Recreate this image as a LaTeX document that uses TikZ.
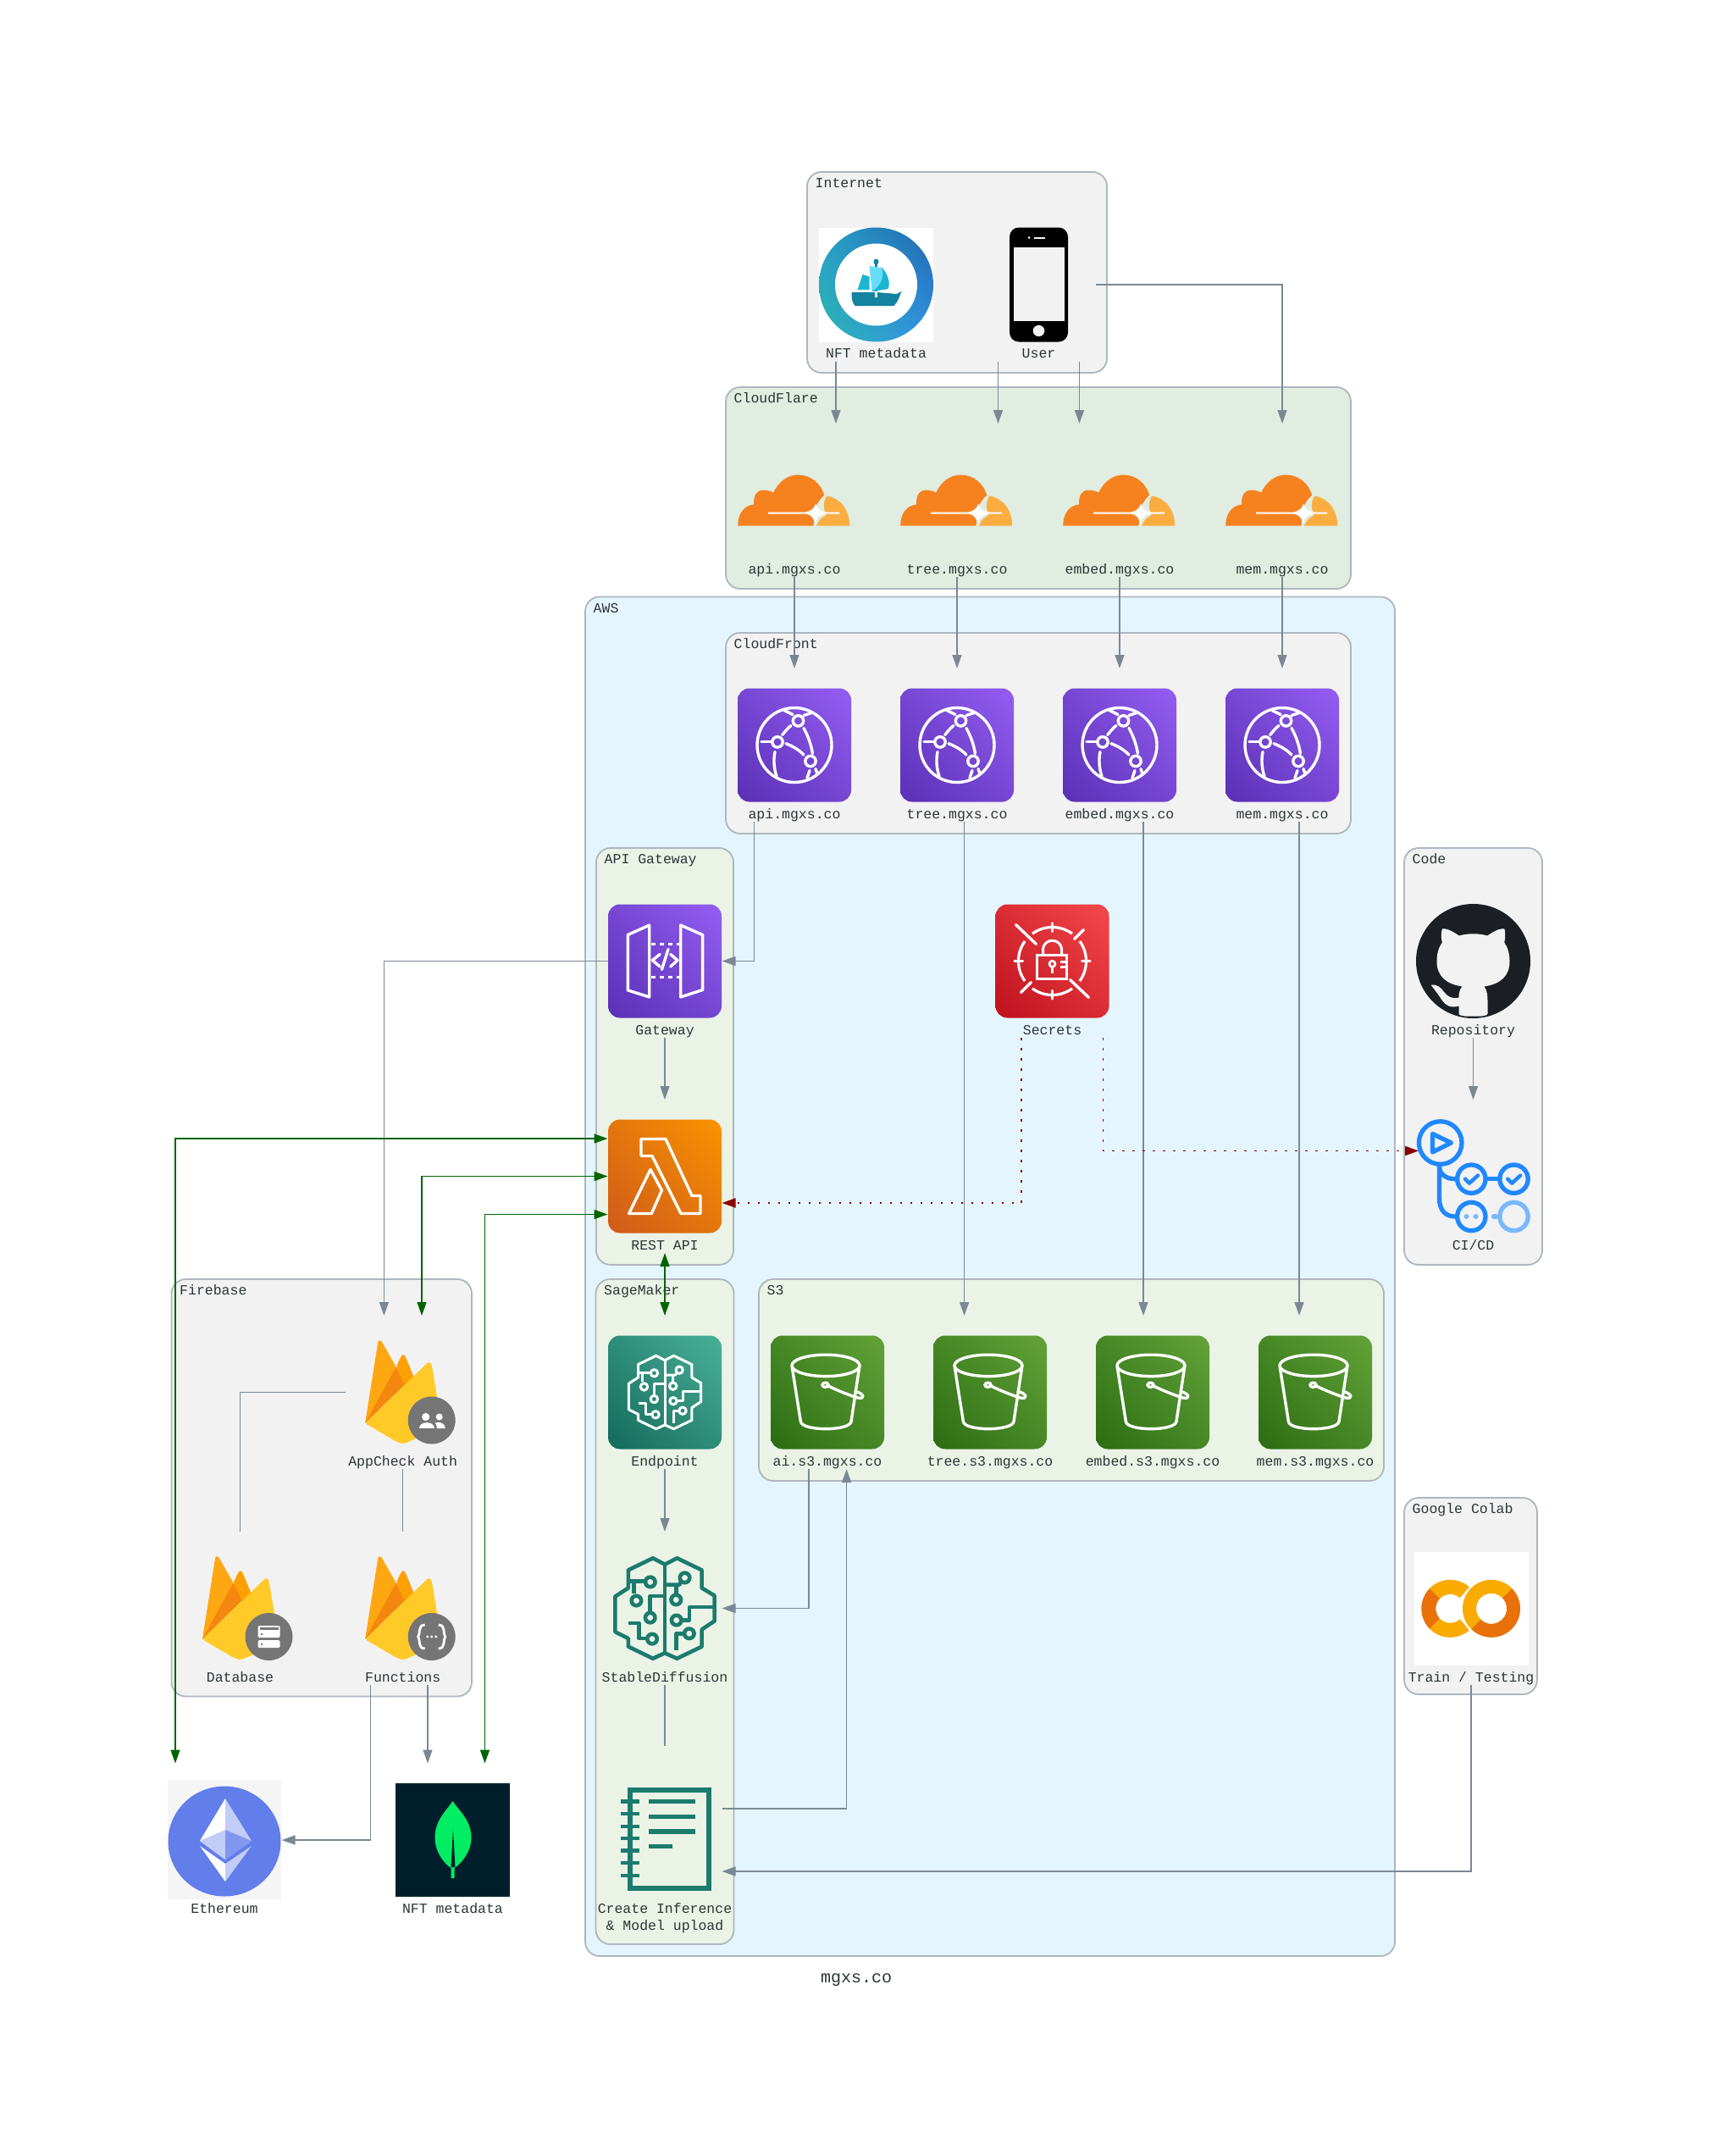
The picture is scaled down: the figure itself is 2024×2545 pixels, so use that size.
\documentclass[tikz,border=0pt]{standalone}
\usepackage{fontspec}
\setmainfont{Liberation Mono}
\usetikzlibrary{arrows.meta,shadings}
\definecolor{edgegrey}{HTML}{7B8894}
\definecolor{clusterline}{HTML}{AEB6BE}
\definecolor{inktext}{HTML}{2D3436}
\definecolor{bgaws}{HTML}{E5F5FD}
\definecolor{bggrey}{HTML}{F2F2F2}
\definecolor{bgflare}{HTML}{E0EDE0}
\definecolor{bggreen}{HTML}{EBF3E7}
\definecolor{pdark}{HTML}{5A30B5}\definecolor{plight}{HTML}{945DF2}
\definecolor{odark}{HTML}{CF5A1A}\definecolor{olight}{HTML}{F99300}
\definecolor{rdark}{HTML}{BF111E}\definecolor{rlight}{HTML}{F5484B}
\definecolor{tdark}{HTML}{136A5A}\definecolor{tlight}{HTML}{4AB098}
\definecolor{gdark}{HTML}{2B6C13}\definecolor{glight}{HTML}{63A338}
\definecolor{sdteal}{HTML}{1C7B6C}
\definecolor{cfdark}{HTML}{F6821F}\definecolor{cflight}{HTML}{FBAD41}
\definecolor{ghdark}{HTML}{1B1F23}
\definecolor{actblue}{HTML}{2088FF}\definecolor{actfade}{HTML}{79B8FF}
\definecolor{colabl}{HTML}{F9AB00}\definecolor{colabd}{HTML}{E8710A}
\definecolor{badge}{HTML}{757575}
\definecolor{darkgrn}{HTML}{006400}
\definecolor{darkred}{HTML}{8B0000}
\definecolor{seaA}{HTML}{2BB7B0}\definecolor{seaB}{HTML}{2A9FC9}\definecolor{seaC}{HTML}{2168B0}\definecolor{seaD}{HTML}{3391EA}
\definecolor{shipL}{HTML}{68DDFB}\definecolor{shipM}{HTML}{1CB6D3}\definecolor{shipD}{HTML}{14839F}
\definecolor{flameA}{HTML}{FFA000}\definecolor{flameB}{HTML}{FFA712}\definecolor{flameC}{HTML}{F4870F}\definecolor{flameY}{HTML}{FFCA28}
\tikzset{
  x=1pt,y=-1pt,
  ndbox/.style={inner sep=0pt,outer sep=0pt,minimum width=135pt,minimum height=181pt},
  lbl/.style={font=\fontsize{16.5}{19.5}\selectfont,text=inktext,inner sep=0pt,align=center},
  clu/.style={draw=clusterline,line width=1.8pt,rounded corners=17pt},
  clutitle/.style={font=\fontsize{16.5}{19.5}\selectfont,text=inktext,inner sep=0pt,anchor=base west},
  conn/.style={draw=edgegrey,line width=1.5pt},
  arr/.style={conn,-{Triangle[length=16pt,width=11pt]}},
  both/.style={draw=darkgrn,line width=1.5pt,{Triangle[length=16pt,width=11pt]}-{Triangle[length=16pt,width=11pt]}},
  dots/.style={draw=darkred,line width=1.9pt,dash pattern=on 2.5pt off 9.5pt,-{Triangle[length=16pt,width=11pt]}},
  wl/.style={draw=white,line width=3.4pt,line join=round,line cap=round},
  ringc/.style={draw=white,line width=3.4pt,fill=none},
}
\newcommand{\awsbg}[2]{\shade[rounded corners=14pt,lower left=#1,upper right=#2,lower right=#1!50!#2,upper left=#1!50!#2] (-67,-67) rectangle (67,67);}
\newcommand{\clusterbox}[7]{\draw[clu,fill=#5] (#1,#2) rectangle (#3,#4);
  \node[clutitle] (#7) at (#1+9.5,#2+18.5) {#6};}
\newcommand{\place}[5]{\node[ndbox] (#1) at (#2,#3) {};
  \begin{scope}[shift={(#2,#3)}]#5\end{scope}
  \node[lbl,anchor=base] (#1-label) at (#2,#3+86.7) {#4};}
\newcommand{\annul}[5]{\fill[#5] (#1:#3) arc[start angle=#1,end angle=#2,radius=#3] -- (#2:#4) arc[start angle=#2,end angle=#1,radius=#4] -- cycle;}
% --- icons ---
\newcommand{\icCloud}{\begin{scope}[shift={(-0.8,0)}]%
 \fill[cfdark] (-66,30) .. controls (-66,15) and (-58,6) .. (-47,5) .. controls (-48,-6) and (-43,-12) .. (-37,-12)
  .. controls (-32,-12) and (-27,-11) .. (-24,-9) .. controls (-18,-22) and (-7,-30) .. (5,-30)
  .. controls (20,-30) and (32,-20) .. (36,-6) .. controls (29,0) and (24,10) .. (24,16)
  .. controls (25,22) and (24,26) .. (23,30) -- cycle;
 \fill[cflight] (39,-5) .. controls (55,-3) and (66,12) .. (66,30) -- (27,30) .. controls (29,24) and (33,20) .. (38,18) -- (36,10) .. controls (35,4) and (36,0) .. (39,-5) -- cycle;
 \fill[white] (-30,14) -- (14,14) .. controls (20,13) and (24,10) .. (26,4) .. controls (27,10) and (31,13) .. (38,14) -- (54,14) -- (54,16) -- (38,16) .. controls (31,17) and (27,20) .. (25,28) .. controls (24,20) and (20,17) .. (14,16) -- (-30,16) -- cycle;\end{scope}}
\newcommand{\icFront}{\awsbg{pdark}{plight}
 \draw[ringc] (0,0) circle (44);
 \draw[ringc] (4.5,-28.6) circle (6.2); \draw[ringc] (-20,-3.6) circle (6.2); \draw[ringc] (19,19) circle (6.2);
 \draw[wl] (-4,-23) .. controls (-8,-20) and (-11,-16) .. (-14.3,-12);
 \draw[wl] (-10,-1.8) .. controls (-3,1) and (5,5) .. (11,11.6);
 \draw[wl] (11,-20) .. controls (16,-11) and (20,0) .. (21.4,10);
 \draw[wl] (-23,8) .. controls (-25,18) and (-24,28) .. (-21,37);
 \draw[wl] (-39,-4) -- (-27,-4);
 \draw[wl] (18,30) -- (15,39);
 \draw[wl] (-12,-41) -- (-2,-36); \draw[wl] (11,-35) -- (20,-38);
 \draw[wl] (25,28) -- (27,34);}
\newcommand{\icGate}{\awsbg{pdark}{plight}
 \draw[wl] (-43.7,-31) -- (-18.3,-42.4) -- (-18.3,42.4) -- (-43.7,34.4) -- cycle;
 \draw[wl] (18.7,-42.4) -- (44.6,-31) -- (44.6,34) -- (18.7,42.4) -- cycle;
 \draw[draw=white,line width=3.2pt,dash pattern=on 5pt off 5pt] (-16,-20) -- (18,-20);
 \draw[draw=white,line width=3.2pt,dash pattern=on 5pt off 5pt] (-16,19) -- (18,19);
 \draw[wl] (-5.8,-8) -- (-14.7,-1) -- (-5.8,6.5);
 \draw[wl] (6.7,-8) -- (15,-1) -- (6.7,6.5);
 \draw[wl] (4,-14) -- (-3.6,10);}
\newcommand{\icLambda}{\awsbg{odark}{olight}
 \draw[wl] (-28,-44) -- (1,-44) -- (32,23) -- (42,23) -- (42,44) -- (19,44) -- (-15,-24) -- (-28,-24) -- cycle;
 \draw[wl] (-17,-8) -- (-3.6,16.5) -- (-15.6,44) -- (-42.4,44) -- cycle;}
\newcommand{\icSecret}{\awsbg{rdark}{rlight}
 \draw[draw=white,line width=3.2pt] (-54:40) arc[start angle=-54,end angle=-126,radius=40];
 \draw[draw=white,line width=3.2pt] (54:40) arc[start angle=54,end angle=126,radius=40];
 \draw[draw=white,line width=3.2pt] (-36:40) arc[start angle=-36,end angle=36,radius=40];
 \draw[draw=white,line width=3.2pt] (144:40) arc[start angle=144,end angle=216,radius=40];
 \draw[wl] (0,-44.5) -- (0,-35); \draw[wl] (0,44.5) -- (0,35); \draw[wl] (-44.5,0) -- (-35,0); \draw[wl] (44.5,0) -- (35,0);
 \draw[wl] (-43,-43) -- (-19,-20); \draw[wl] (21,22) -- (43,43);
 \draw[wl] (37,-37) -- (26,-26); \draw[wl] (-37,37) -- (-25,25);
 \draw[draw=white,line width=3pt,line join=miter] (-17.7,-6.7) rectangle (17.3,21);
 \draw[draw=white,line width=3pt] (-11,-6.7) -- (-11,-13) .. controls (-11,-28) and (11,-28) .. (11,-13) -- (11,-6.7);
 \draw[draw=white,line width=2.6pt] (0,3.3) circle (3.5); \draw[draw=white,line width=2.6pt] (0,7) -- (0,14);
 \draw[draw=white,line width=2.4pt] (9,1) -- (16,1); \draw[draw=white,line width=2.4pt] (9,7) -- (16,7);}
\newcommand{\icBucket}{\awsbg{gdark}{glight}
 \draw[ringc] (-2,-31.6) ellipse (40 and 12.7);
 \draw[wl] (-41.8,-30) -- (-31.6,34.6) .. controls (-30,46) and (26,46) .. (28,34.6) -- (37.7,-30);
 \draw[ringc] (-2.5,-8.7) ellipse (3.5 and 2.6);
 \draw[wl] (0,-8) .. controls (10,-3) and (22,2) .. (35,6.3) .. controls (46,9) and (43,1) .. (33,-1);}
\newcommand{\brainlines}{%
 \draw[brain] (-14.7,-61.7) -- (-45,-47) -- (-45,-25) -- (-61,-14.6) -- (-61,29) -- (-45,37) -- (-45,47) -- (-14.7,61.7) -- (0,55) -- (15,61.7) -- (45.5,47) -- (45.5,26) -- (61,15.7) -- (61,-15.7) -- (45.5,-25) -- (45.5,-47) -- (15,-61.7) -- (0,-54) -- cycle;
 \draw[brain] (0,-54) -- (0,55);
 \draw[brain] (-45,-33.5) -- (-24,-33.5); \draw[brain] (-17.9,-32.4) circle (6);
 \draw[brain] (-38,-33) -- (-38,-18); \draw[brain] (-35,-9.4) circle (6);
 \draw[brain] (0,-15) -- (-18,-15) -- (-18,5); \draw[brain] (-18,11.5) circle (6);
 \draw[brain] (-45,18) -- (-32,18) -- (-32,37) -- (-22,37); \draw[brain] (-15.6,37.6) circle (6);
 \draw[brain] (0,-29) -- (18,-29) -- (20,-33); \draw[brain] (24.5,-37.6) circle (6);
 \draw[brain] (13.8,-29) -- (13.8,-16); \draw[brain] (13.8,-10.5) circle (6);
 \draw[brain] (21,14.6) -- (30,14.6) -- (30,-1.6) -- (61,-1.6); \draw[brain] (14.3,14.6) circle (6);
 \draw[brain] (14.3,52) -- (14.3,31) -- (23,31); \draw[brain] (30,31) circle (6);}
\newcommand{\icEndpoint}{\awsbg{tdark}{tlight}
 \begin{scope}[scale=.70,brain/.style={draw=white,line width=3pt,line join=round}]\brainlines\end{scope}}
\newcommand{\icSD}{\begin{scope}[scale=.96,brain/.style={draw=sdteal,line width=4.6pt,line join=round}]\brainlines\end{scope}}
\newcommand{\icBook}{%
 \draw[draw=sdteal,line width=6pt] (-40.7,-59) rectangle (52.4,57);
 \foreach \yy in {-45.5,-31,-16,-2,12.5,27,42} {\draw[draw=sdteal,line width=4.6pt] (-52,\yy) -- (-29.6,\yy);}
 \draw[draw=sdteal,line width=5.2pt] (-18.6,-45.5) -- (36,-45.5);
 \draw[draw=sdteal,line width=5.2pt] (-18.6,-27.7) -- (36,-27.7);
 \draw[draw=sdteal,line width=5.2pt] (-18.6,-10) -- (36,-10);
 \draw[draw=sdteal,line width=5.2pt] (-18.6,7.3) -- (8.7,7.3);}
\newcommand{\icSea}{%
 \fill[white] (-67.5,-67.5) rectangle (67.5,67.5);
 \shade[lower left=seaA,upper left=seaB,upper right=seaC,lower right=seaD] (0,0) circle (67.5);
 \fill[white] (0,0) circle (48.5);
 \fill[shipD] (-1.2,-29) -- (1.2,-29) -- (1.2,9) -- (-1.2,9) -- cycle;
 \fill[shipD] (0,-27) ellipse (3 and 3.5);
 \fill[shipL] (-8,-22) -- (7,-20) .. controls (14,-12) and (17,-2) .. (14,5) -- (-5,8) -- cycle;
 \fill[shipM] (-16,-12) -- (-8,-9.5) -- (-8,6) -- (-22,6) -- cycle;
 \fill[shipM] (-5,8) .. controls (5,2) and (10,-8) .. (7,-20) .. controls (14,-12) and (17,-2) .. (14,5) -- cycle;
 \fill[shipD] (-29,9) -- (-1,9) -- (-1,15) -- (1,15) -- (1,9) -- (24,11) -- (30,8) .. controls (27,15) and (26,20) .. (21,25) -- (-25,25) .. controls (-29,20) and (-29,15) .. (-29,9) -- cycle;
 \fill[white] (-1.5,8) rectangle (1.5,15);}
\newcommand{\icPhone}{%
 \fill[black,rounded corners=11pt] (-34.5,-67.5) rectangle (34.5,67.5);
 \fill[bggrey] (-29.2,-44.3) rectangle (30,43.3);
 \fill[bggrey] (0,54.5) ellipse (6.8 and 6.6);
 \fill[bggrey] (-6,-56.5) rectangle (7,-54.5);
 \fill[bggrey] (-11.5,-55.5) circle (1.5);}
\newcommand{\icHub}{%
 \fill[ghdark] (0,0) circle (67.5);
 \fill[bggrey] (-36.7,-38) .. controls (-33,-39) and (-27,-37) .. (-16.7,-30) .. controls (-6,-33) and (6,-33) .. (16.7,-30)
   .. controls (27,-37) and (33,-39) .. (37,-38) .. controls (38,-33) and (38,-27) .. (36.7,-22)
   .. controls (41,-16) and (43,-8) .. (43,0) .. controls (43,18) and (32,27) .. (13,30)
   .. controls (17,35) and (17,42) .. (17,50) -- (17,62) .. controls (17,64) and (13,64.5) .. (10,65) -- (-10,65) .. controls (-13,64.5) and (-17,64) .. (-17,62) -- (-17,53)
   .. controls (-27,56) and (-33,52) .. (-37,46) .. controls (-40,41) and (-44,36) .. (-50,28)
   .. controls (-43,27) and (-38,31) .. (-34,37) .. controls (-30,42) and (-25,45) .. (-17,43)
   .. controls (-17,38) and (-16,33) .. (-13,30) .. controls (-32,27) and (-43,18) .. (-43,0)
   .. controls (-43,-8) and (-41,-16) .. (-36.7,-22) .. controls (-38,-27) and (-38,-33) .. (-36.7,-38) -- cycle;}
\newcommand{\icActions}{%
 \begin{scope}[act/.style={draw=actblue,line width=5.3pt,line cap=round,line join=round}]
 \draw[act] (-40,-14) -- (-40,26) .. controls (-40,40) and (-33,47.5) .. (-21,47.5);
 \draw[act] (-40,-12) .. controls (-40,-3) and (-33,3.2) .. (-21,3.2);
 \draw[act] (15,3.2) -- (30,3.2);
 \draw[act] (-38.8,-39.5) circle (25.3);
 \draw[act] (-48,-50) -- (-26,-39.5) -- (-48,-28.5) -- cycle;
 \draw[act] (-2.2,3.2) circle (16.7); \draw[act] (48,3.2) circle (16.7); \draw[act] (-2.2,47.5) circle (16.7);
 \draw[act,line width=4.4pt] (-9.5,3.2) -- (-4.5,8.2) -- (5.5,-1);
 \draw[act,line width=4.4pt] (40.7,3.2) -- (45.7,8.2) -- (55.7,-1);
 \draw[act,draw=actfade] (48,47.5) circle (16.7);
 \draw[act,draw=actfade] (24,47.5) -- (27,47.5);
 \end{scope}
 \fill[actfade] (-8,47.5) circle (3); \fill[actfade] (3,47.5) circle (3);}
\newcommand{\icColab}{%
 \fill[white] (-67.5,-67) rectangle (67.5,67);
 \begin{scope}[shift={(-24.7,0.3)}]
  \annul{135}{225}{34}{17}{colabd}
  \annul{225}{312}{34}{17}{colabl}
  \annul{48}{135}{34}{17}{colabl}
 \end{scope}
 \begin{scope}[shift={(24,0.3)}]
  \fill[white] (0,0) circle (36.5);
  \annul{-45}{135}{34}{18}{colabd}
  \annul{135}{315}{34}{18}{colabl}
 \end{scope}}
\newcommand{\flamebase}{%
 \fill[flameA,rounded corners=2pt] (-8,-30) -- (-1,-44.5) -- (2,-44.5) -- (14.3,-14.6) -- (2,-5) -- cycle;
 \fill[flameB,rounded corners=2pt] (-44.6,36.6) -- (-29,-61.7) -- (-26,-61.7) -- (-8,-30) -- (2,-9) -- cycle;
 \fill[flameC] (-44.6,36.6) -- (-8,-30) -- (2,-9) -- cycle;
 \fill[flameY,rounded corners=3pt] (-44.6,36.6) -- (31,-36.6) -- (34,-33) -- (46,40) -- (8,58) -- (0,61) -- (-8,58) -- cycle;}
\newcommand{\icAuth}{\flamebase
 \begin{scope}[shift={(34,33)}]\fill[badge] (0,0) circle (28);
 \fill[white] (-7,-4) circle (4.6); \fill[white] (9,-4) circle (4);
 \fill[white] (-15,9.5) .. controls (-15,0) and (3,0) .. (3,9.5) -- cycle;
 \fill[white] (6,9.5) .. controls (6,6) and (5,4) .. (4,3) .. controls (10,1) and (16,4) .. (16,9.5) -- cycle;\end{scope}}
\newcommand{\icDB}{\flamebase
 \begin{scope}[shift={(34,33.5)}]\fill[badge] (0,0) circle (28);
 \fill[white,rounded corners=1.5pt] (-13,-13) rectangle (13,1);
 \fill[white,rounded corners=1.5pt] (-13,4) rectangle (13,13);
 \fill[badge] (-11,-11) rectangle (11,-8);
 \fill[badge] (-10,7.5) rectangle (-8,9.5);\fill[badge] (-10,-4) rectangle (-8,-2);\end{scope}}
\newcommand{\icFn}{\flamebase
 \begin{scope}[shift={(34,33.5)}]\fill[badge] (0,0) circle (28);
 \draw[draw=white,line width=2.8pt] (-8,-14) .. controls (-17,-14) and (-13,-3) .. (-16,0) .. controls (-13,3) and (-17,14) .. (-8,14);
 \draw[draw=white,line width=2.8pt] (8,-14) .. controls (17,-14) and (13,-3) .. (16,0) .. controls (13,3) and (17,14) .. (8,14);
 \fill[white] (-5,0) circle (1.6); \fill[white] (0,0) circle (1.6); \fill[white] (5,0) circle (1.6);\end{scope}}
\definecolor{ethbg}{HTML}{F5F5F5}\definecolor{ethe}{HTML}{627EEA}\definecolor{ethm}{HTML}{C1CCF7}\definecolor{ethn}{HTML}{8197EE}
\newcommand{\icEth}{%
 \fill[ethbg] (-67,-71) rectangle (67,69.5);
 \fill[ethe] (0,1.5) ellipse (66.5 and 65);
 \fill[white] (1,-49) -- (-29,1) -- (1,23) -- cycle;
 \fill[ethm] (1,-49) -- (32,1) -- (1,23) -- cycle;
 \fill[ethm] (-29,1) -- (1,-12) -- (1,23) -- cycle;
 \fill[ethn] (32,1) -- (1,-12) -- (1,23) -- cycle;
 \fill[white] (-29,7) -- (1,28) -- (1,49) -- cycle;
 \fill[ethm] (32,7) -- (1,28) -- (1,49) -- cycle;}
\definecolor{mongobg}{HTML}{001E2B}\definecolor{mongoleaf}{HTML}{00ED64}
\newcommand{\icMongo}{%
 \fill[mongobg] (-67.5,-67.5) rectangle (67.5,67);
 \fill[mongoleaf] (0,-46) .. controls (-6,-36) and (-21,-24) .. (-21,-3) .. controls (-21,14) and (-10,28) .. (-2,33) -- (-2,45) -- (2,45) -- (2,33) .. controls (10,28) and (22,14) .. (22,-3) .. controls (22,-24) and (6,-36) .. (0,-46) -- cycle;
 \fill[mongobg] (0.5,-13) -- (-2,32) -- (3,32) -- cycle;}
\begin{document}
\begin{tikzpicture}
\useasboundingbox (0,0) rectangle (2024,2545);
\fill[white] (0,0) rectangle (2024,2545);
% clusters
\clusterbox{691}{704.5}{1647}{2309}{bgaws}{AWS}{tawS}
\clusterbox{953}{203}{1307}{440}{bggrey}{Internet}{tinternet}
\clusterbox{857}{457}{1595}{695}{bgflare}{CloudFlare}{tflare}
\clusterbox{857}{747}{1595}{984}{bggrey}{CloudFront}{tfront}
\clusterbox{704}{1001}{866}{1493}{bggreen}{API Gateway}{tapi}
\clusterbox{703.5}{1510}{866.5}{2295}{bggreen}{SageMaker}{tsage}
\clusterbox{896}{1510}{1634}{1748}{bggreen}{S3}{ts}
\clusterbox{202.5}{1510}{557}{2002.5}{bggrey}{Firebase}{tfire}
\clusterbox{1658}{1001}{1821}{1493}{bggrey}{Code}{tcode}
\clusterbox{1658}{1768}{1815}{2000}{bggrey}{Google Colab}{tcolab}
% nodes
\place{opensea}{1034.5}{336}{NFT metadata}{\icSea}
\place{user}{1226.5}{336}{User}{\icPhone}
\place{fapi}{938}{590.5}{api.mgxs.co}{\icCloud}
\place{ftree}{1130}{590.5}{tree.mgxs.co}{\icCloud}
\place{fembed}{1322}{590.5}{embed.mgxs.co}{\icCloud}
\place{fmem}{1514}{590.5}{mem.mgxs.co}{\icCloud}
\place{capi}{938}{879.5}{api.mgxs.co}{\icFront}
\place{ctree}{1130}{879.5}{tree.mgxs.co}{\icFront}
\place{cembed}{1322}{879.5}{embed.mgxs.co}{\icFront}
\place{cmem}{1514}{879.5}{mem.mgxs.co}{\icFront}
\place{gateway}{785}{1134.5}{Gateway}{\icGate}
\place{lambda}{785}{1388.5}{REST API}{\icLambda}
\place{secrets}{1242.5}{1134.5}{Secrets}{\icSecret}
\place{github}{1739.5}{1134.5}{Repository}{\icHub}
\place{cicd}{1739.5}{1388.5}{CI/CD}{\icActions}
\place{endpoint}{785}{1643.5}{Endpoint}{\icEndpoint}
\place{sd}{785}{1898.5}{StableDiffusion}{\icSD}
\node[ndbox,minimum height=223pt] (book) at (785,2172) {};
\begin{scope}[shift={(785,2172)}]\icBook\end{scope}
\node[lbl,anchor=base] (book-label) at (785,2278) {Create Inference\\\& Model upload};
\place{sai}{977}{1643.5}{ai.s3.mgxs.co}{\icBucket}
\place{stree}{1169}{1643.5}{tree.s3.mgxs.co}{\icBucket}
\place{sembed}{1361}{1643.5}{embed.s3.mgxs.co}{\icBucket}
\place{smem}{1553}{1643.5}{mem.s3.mgxs.co}{\icBucket}
\place{appcheck}{475.7}{1643.5}{AppCheck Auth}{\icAuth}
\place{database}{283.5}{1898.5}{Database}{\icDB}
\place{functions}{475.7}{1898.5}{Functions}{\icFn}
\place{eth}{265}{2172}{Ethereum}{\icEth}
\place{mongo}{534.5}{2172}{NFT metadata}{\icMongo}
\place{colab}{1737}{1898.5}{Train / Testing}{\icColab}
\node[font=\fontsize{20}{24}\selectfont,text=inktext,inner sep=0pt,anchor=base] (graphlabel) at (1011,2340) {mgxs.co};
% connectors
\draw[arr] ([xshift=-47.5pt]opensea.south) -- ([xshift=49pt]fapi.north);
\draw[arr] ([xshift=-48pt]user.south) -- ([xshift=48.5pt]ftree.north);
\draw[arr] ([xshift=48pt]user.south) -- ([xshift=-47.5pt]fembed.north);
\draw[arr] (user.east) -| (fmem.north);
\draw[arr] (fapi.south) -- (capi.north);
\draw[arr] (ftree.south) -- (ctree.north);
\draw[arr] (fembed.south) -- (cembed.north);
\draw[arr] (fmem.south) -- (cmem.north);
\draw[arr] ([xshift=-47.6pt]capi.south) |- (gateway.east);
\draw[arr] ([xshift=8.6pt]ctree.south) -- ([xshift=-30.4pt]stree.north);
\draw[arr] ([xshift=28pt]cembed.south) -- ([xshift=-11pt]sembed.north);
\draw[arr] ([xshift=20pt]cmem.south) -- ([xshift=-19pt]smem.north);
\draw[arr] (gateway.west) -| ([xshift=-22.3pt]appcheck.north);
\draw[arr] (gateway.south) -- (lambda.north);
\draw[both] ([yshift=44.5pt]lambda.west) -| ([xshift=-58pt]eth.north);
\draw[both] (lambda.west) -| ([xshift=22.3pt]appcheck.north);
\draw[both] ([yshift=-45pt]lambda.west) -| ([xshift=38pt]mongo.north);
\draw[both] (lambda.south) -- (endpoint.north);
\draw[dots] ([xshift=-36.5pt]secrets.south) |- ([yshift=-31.5pt]lambda.east);
\draw[dots] ([xshift=60pt]secrets.south) |- ([xshift=3pt,yshift=30pt]cicd.west);
\draw[arr] (github.south) -- (cicd.north);
\draw[arr] (endpoint.south) -- (sd.north);
\draw[conn] (sd.south) -- (book.north);
\draw[conn] (appcheck.west) -| (database.north);
\draw[conn] (appcheck.south) -- (functions.north);
\draw[arr] ([xshift=-22pt]sai.south) |- (sd.east);
\draw[arr] ([yshift=37pt]book.east) -| ([xshift=22.6pt]sai.south);
\draw[arr] ([xshift=-38pt]functions.south) |- (eth.east);
\draw[arr] ([xshift=29.3pt]functions.south) -- ([xshift=-29.5pt]mongo.north);
\draw[arr] (colab.south) |- ([yshift=-37pt]book.east);
\end{tikzpicture}
\end{document}
